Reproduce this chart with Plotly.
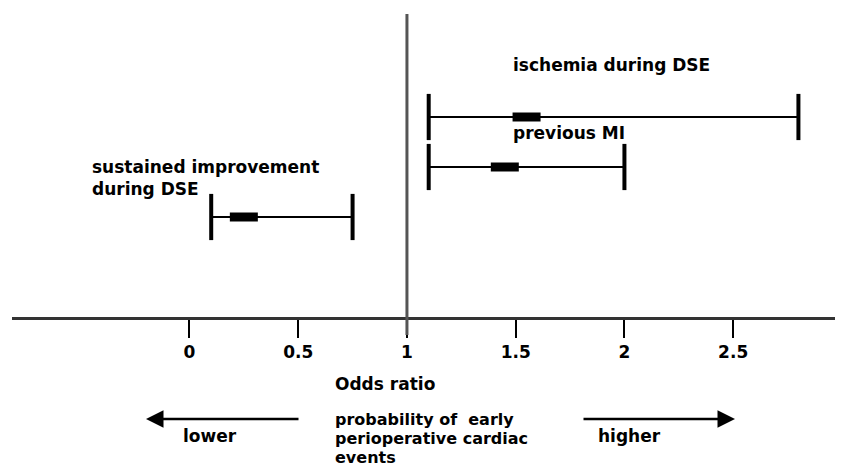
import plotly.graph_objects as go

# Datos del forest plot (odds ratio con IC 95%)
factores = ['ischemia during DSE', 'previous MI', 'sustained improvement<br>during DSE']
fila = [3, 2, 1]
odds_ratio = [1.55, 1.45, 0.25]
ic_inferior = [1.1, 1.1, 0.1]
ic_superior = [2.8, 2.0, 0.75]

ticks_x = [0, 0.5, 1, 1.5, 2, 2.5, 3]
ticks_texto = ['0', '0.5', '1', '1.5', '2', '2.5', '3']
linea_ref = 1

FUENTE = 'DejaVu Sans'
BODY = 8  # margen del body de la pagina html
W, H = 843 - BODY, 468 - BODY
ML, MR, MT, MB = 4, 0, 6, 151
PW, PH = W - ML - MR, H - MT - MB


# posiciones en pixeles de la ventana -> coordenadas paper
def px(x):
    return (x - BODY - ML) / PW


def py(y):
    return (H - MB - (y - BODY)) / PH


fig = go.Figure()

# Intervalos de confianza con sus topes
for i in range(len(factores)):
    fig.add_trace(go.Scatter(
        x=[ic_inferior[i], ic_superior[i]],
        y=[fila[i], fila[i]],
        mode='lines+markers',
        line=dict(color='black', width=2),
        marker=dict(symbol='line-ns', size=33,
                    line=dict(color='black', width=4)),
        hoverinfo='skip',
        cliponaxis=False,
    ))

# Estimacion puntual
fig.add_trace(go.Scatter(
    x=odds_ratio,
    y=fila,
    mode='markers',
    marker=dict(symbol='line-ew', size=20, color='black',
                line=dict(color='black', width=9)),
    text=factores,
    hovertemplate='%{text}<br>OR %{x}<extra></extra>',
))

# Linea de no efecto
fig.add_shape(type='line', xref='x', yref='paper',
              x0=linea_ref, x1=linea_ref, y0=-18 / PH, y1=1,
              line=dict(color='#555', width=3))

anot = dict(showarrow=False, xanchor='left', yanchor='middle',
            font=dict(family=FUENTE, size=17, color='black', weight='bold'))
anot_chica = dict(anot, font=dict(family=FUENTE, size=16, color='black', weight='bold'))

fig.add_annotation(text=factores[0], xref='paper', yref='paper',
                   x=px(511), y=py(65), **anot)
fig.add_annotation(text=factores[1], xref='paper', yref='paper',
                   x=px(511), y=py(133), **anot)
fig.add_annotation(text=factores[2], xref='paper', yref='paper',
                   x=px(90), y=py(178), align='left', **anot)

fig.add_annotation(text='Odds ratio', xref='paper', yref='paper',
                   x=px(333), y=py(384), **anot)
for t, yy in [('probability of  early', 419),
              ('perioperative cardiac', 438),
              ('events', 457)]:
    fig.add_annotation(text=t, xref='paper', yref='paper',
                       x=px(333), y=py(yy), **anot_chica)
fig.add_annotation(text='lower', xref='paper', yref='paper',
                   x=px(181), y=py(436), **anot)
fig.add_annotation(text='higher', xref='paper', yref='paper',
                   x=px(596), y=py(436), **anot)

# Flechas
flecha = dict(text='', showarrow=True, arrowhead=2, arrowsize=1.4,
              arrowwidth=2.5, arrowcolor='black',
              xref='paper', yref='paper', axref='pixel', ayref='pixel', ay=0)
fig.add_annotation(x=px(146), y=py(419), ax=154, **flecha)
fig.add_annotation(x=px(735), y=py(419), ax=-153, **flecha)

fig.update_xaxes(
    range=[-0.816, 3.005],
    tickvals=ticks_x, ticktext=ticks_texto,
    ticks='outside', ticklen=18, tickwidth=2, tickcolor='black',
    showline=True, linewidth=3, linecolor='#333',
    showgrid=False, zeroline=False,
    tickfont=dict(family=FUENTE, size=17, color='black', weight='bold'),
)
fig.update_yaxes(range=[-1, 5.06], visible=False)

fig.update_layout(
    width=W, height=H,
    margin=dict(l=ML, r=MR, t=MT, b=MB),
    plot_bgcolor='#fff',
    paper_bgcolor='#fff',
    showlegend=False,
)

fig.write_html('out.html')
